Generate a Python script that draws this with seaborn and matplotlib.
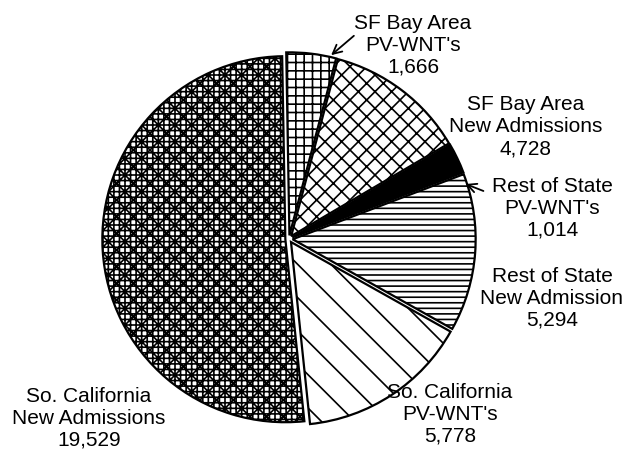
import matplotlib
matplotlib.use("Agg")
import matplotlib.pyplot as plt
import seaborn as sns

regions = ["SF Bay Area", "SF Bay Area", "Rest of State", "Rest of State",
           "So. California", "So. California"]
groups = ["PV-WNT's", "New Admissions", "PV-WNT's", "New Admission",
          "PV-WNT's", "New Admissions"]
values = [1666, 4728, 1014, 5294, 5778, 19529]
value_labels = ["1,666", "4,728", "1,014", "5,294", "5,778", "19,529"]

sns.set_theme(style="white")
plt.rcParams["font.family"] = ["Liberation Sans", "DejaVu Sans"]
plt.rcParams["hatch.linewidth"] = 1.2
plt.rcParams["hatch.color"] = "black"

W, H = 625, 467
fig = plt.figure(figsize=(W / 100, H / 100), dpi=100)
fig.patch.set_facecolor("white")
ax = fig.add_axes([0, 0, 1, 1])

hatches = ["++", "xx", "", "---", "\\", "+++xx"]
faces = ["white", "white", "black", "white", "white", "white"]
wedges, _ = ax.pie(values, startangle=91, counterclock=False,
                   explode=[0.02] * len(values), colors=faces,
                   wedgeprops=dict(edgecolor="black", linewidth=1.6))
for w, h in zip(wedges, hatches):
    w.set_hatch(h)

# pixel scale: radius = 183 px, centre at (289, 239) from top-left
R = 183.0
cx, cy = 289.0, 239.0
ax.set_xlim(-cx / R, (W - cx) / R)
ax.set_ylim(-(H - cy) / R, cy / R)
ax.set_aspect("equal", adjustable="datalim")
ax.axis("off")


def fp(x, y):
    return (x / W, 1 - y / H)


label_pos = [(413, 45), (526, 127), (552, 208), (552, 298), (450, 414), (89, 418)]
for reg, grp, vl, (x, y) in zip(regions, groups, value_labels, label_pos):
    fig.text(*fp(x, y), f"{reg}\n{grp}\n{vl}", ha="center", va="center",
             fontsize=15, linespacing=1.2, color="black")

arrow_kw = dict(arrowstyle="->", lw=1.3, color="black", mutation_scale=16)
ax.annotate("", xy=fp(329, 57), xytext=fp(356, 34), xycoords="figure fraction",
            textcoords="figure fraction", arrowprops=arrow_kw)
ax.annotate("", xy=fp(463, 183), xytext=fp(486, 192), xycoords="figure fraction",
            textcoords="figure fraction", arrowprops=arrow_kw)

fig.savefig("out.png", dpi=100, facecolor="white")
